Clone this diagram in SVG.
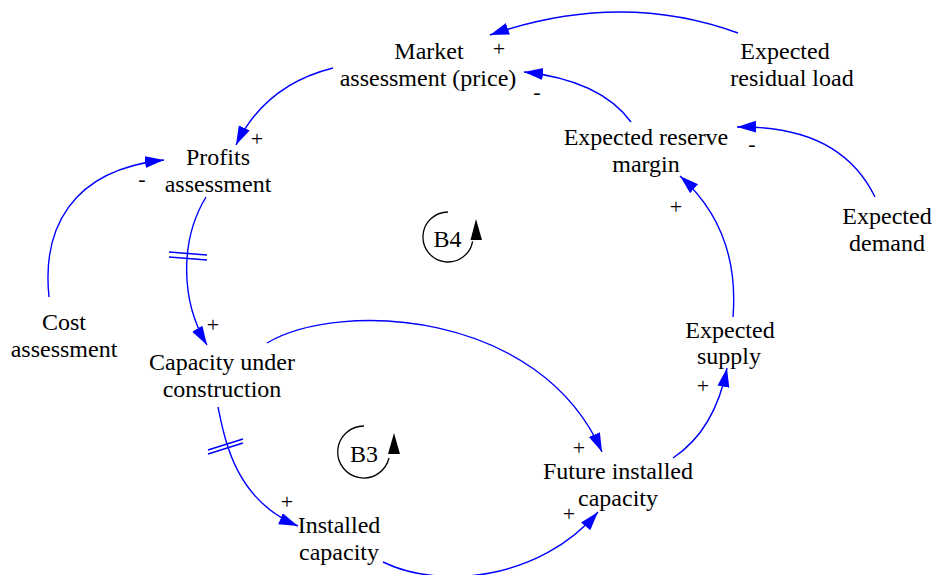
<svg xmlns="http://www.w3.org/2000/svg" width="935" height="575" viewBox="0 0 935 575">
<style>
.lbl{font-family:Liberation Serif,DejaVu Serif,serif;font-size:24px;text-anchor:middle;fill:#000;}
.sg{font-family:Liberation Serif,DejaVu Serif,serif;font-size:22px;text-anchor:middle;fill:#000;}
.lk{fill:none;stroke:#0000FF;stroke-width:1.4;marker-end:url(#ah);}
.dl{fill:none;stroke:#0000FF;stroke-width:1.6;}
.lp{fill:none;stroke:#000;stroke-width:1.3;}
</style>
<defs>
<marker id="ah" markerUnits="userSpaceOnUse" markerWidth="20" markerHeight="14" refX="19" refY="6" orient="auto">
<path d="M0,0 L19,6 L0,12 z" fill="#0000FF"/>
</marker>
</defs>
<rect width="935" height="575" fill="#fff"/>
<g id="connectors">
<path class="lk" d="M738,33 Q620,-10 490,35"/>
<path class="lk" d="M631,122 Q600,80 524,72"/>
<path class="lk" d="M333,68 Q265,85 236,145"/>
<path class="lk" d="M875,197 Q840,125 737,127"/>
<path class="lk" d="M49,297 C42,230 70,170 164,160"/>
<path class="lk" d="M206,197 C180,240 180,300 207,345"/>
<path class="lk" d="M733,317 Q740,230 680,176"/>
<path class="lk" d="M218,407 C225,440 235,500 298,526"/>
<path class="lk" d="M267,343 C340,300 540,310 602,452"/>
<path class="lk" d="M383,562 C440,590 540,580 598,512"/>
<path class="lk" d="M673,458 Q715,430 727,368"/>
<path class="dl" d="M169,252 L207,255 M169,257 L207,260"/>
<path class="dl" d="M208,450 L243,439 M208,454 L243,443"/>
</g>
<g id="polarities">
<text class="sg" x="499" y="56" font-family="Liberation Serif">+</text>
<text class="sg" x="537" y="99">-</text>
<text class="sg" x="257" y="146">+</text>
<text class="sg" x="142" y="186">-</text>
<text class="sg" x="752" y="151">-</text>
<text class="sg" x="676" y="214">+</text>
<text class="sg" x="213" y="332">+</text>
<text class="sg" x="703" y="393">+</text>
<text class="sg" x="579" y="455">+</text>
<text class="sg" x="569" y="521">+</text>
<text class="sg" x="287" y="509">+</text>
</g>
<g id="market"><text class="lbl" x="429" y="59">Market</text><text class="lbl" x="428" y="86">assessment (price)</text></g>
<g id="residual"><text class="lbl" x="785" y="59">Expected</text><text class="lbl" x="792" y="86">residual load</text></g>
<g id="reserve"><text class="lbl" x="646" y="145">Expected reserve</text><text class="lbl" x="646" y="172">margin</text></g>
<g id="profits"><text class="lbl" x="218" y="165">Profits</text><text class="lbl" x="218" y="192">assessment</text></g>
<g id="demand"><text class="lbl" x="887" y="224">Expected</text><text class="lbl" x="887" y="251">demand</text></g>
<g id="cost"><text class="lbl" x="64" y="330">Cost</text><text class="lbl" x="64" y="357">assessment</text></g>
<g id="supply"><text class="lbl" x="730" y="338">Expected</text><text class="lbl" x="729" y="364">supply</text></g>
<g id="construction"><text class="lbl" x="222" y="370">Capacity under</text><text class="lbl" x="222" y="397">construction</text></g>
<g id="future"><text class="lbl" x="618" y="479">Future installed</text><text class="lbl" x="618" y="506">capacity</text></g>
<g id="installed"><text class="lbl" x="339" y="533">Installed</text><text class="lbl" x="339" y="560">capacity</text></g>
<g id="loopB4">
<path class="lp" d="M448,212 A25,25 0 1 0 472.6,241.3"/>
<path d="M476,219 L470.5,240 L482,240 z" fill="#000"/>
<text class="lbl" x="447.5" y="247">B4</text>
</g>
<g id="loopB3">
<path class="lp" d="M364,426 A26,26 0 1 0 389,458"/>
<path d="M394,433 L388,454 L400,454 z" fill="#000"/>
<text class="lbl" x="364" y="462">B3</text>
</g>
</svg>
